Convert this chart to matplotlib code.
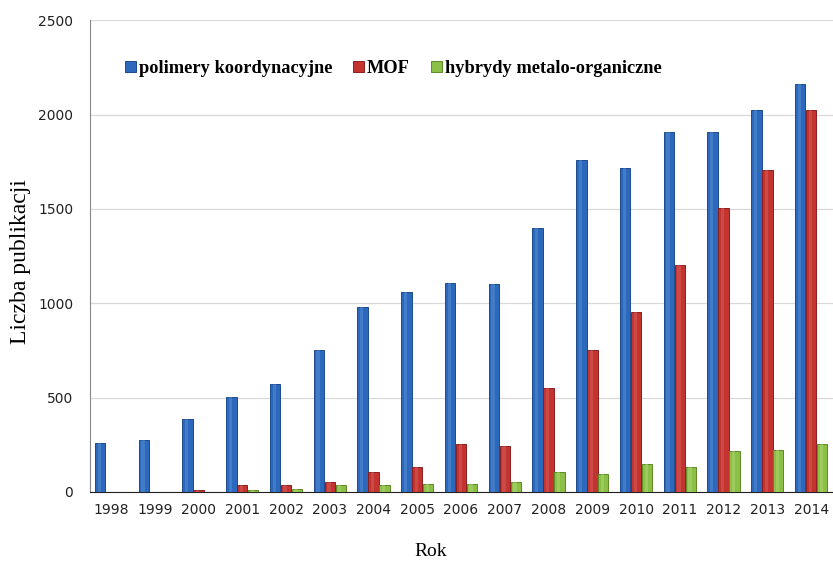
import matplotlib.pyplot as plt
import numpy as np

years = ['1998', '1999', '2000', '2001', '2002', '2003', '2004', '2005', '2006',
         '2007', '2008', '2009', '2010', '2011', '2012', '2013', '2014']
polimery = [260, 275, 385, 505, 570, 755, 980, 1060, 1105, 1100, 1400, 1760, 1715, 1910, 1910, 2025, 2160]
mof = [0, 0, 10, 35, 35, 55, 105, 135, 255, 245, 550, 750, 955, 1205, 1505, 1705, 2025]
hybrydy = [0, 0, 0, 10, 15, 35, 35, 40, 45, 55, 105, 95, 150, 135, 215, 220, 255]

serif = 'Liberation Serif'

fig = plt.figure(figsize=(8.33, 5.61), dpi=100)
ax = fig.add_axes([0.108, 0.123, 0.892, 0.841])

x = np.arange(len(years))
w = 0.25
series = [(polimery, '#2c68bb', '#1d4a8c', '#5f93d6', 'polimery koordynacyjne'),
          (mof, '#c3332f', '#8a1f1f', '#db6460', 'MOF'),
          (hybrydy, '#8cbf45', '#5c8a25', '#b3d97a', 'hybrydy metalo-organiczne')]
for i, (vals, col, edge, light, lab) in enumerate(series):
    pos = x + (i - 1) * w
    ax.bar(pos, vals, w * 0.95, color=col, edgecolor=edge, linewidth=0.7,
           label=lab, zorder=3)
    # light stripe to mimic the cylinder shading
    ax.bar(pos - w * 0.08, vals, w * 0.3, color=light, alpha=0.45,
           linewidth=0, zorder=4)

ax.set_xlim(-0.48, 16.5)
ax.set_ylim(0, 2500)
ax.set_yticks([0, 500, 1000, 1500, 2000, 2500])
ax.set_xticks(x)
ax.set_xticklabels(years)
ax.tick_params(axis='both', length=0, labelsize=10, colors='#222222')
ax.tick_params(axis='y', pad=12)
ax.tick_params(axis='x', pad=8)
ax.grid(axis='y', color='#d9d9d9', linewidth=0.9, zorder=0)

for s in ['top', 'right']:
    ax.spines[s].set_visible(False)
ax.spines['left'].set_color('#888888')
ax.spines['bottom'].set_color('#222222')

ax.set_ylabel('Liczba publikacji', family=serif, fontsize=17)
ax.yaxis.set_label_coords(-0.08, 0.489)
ax.set_xlabel('Rok', family=serif, fontsize=14)
ax.xaxis.set_label_coords(0.459, -0.108)

leg = ax.legend(loc='center left', bbox_to_anchor=(0.047, 0.898), ncol=3, frameon=False,
                prop={'family': serif, 'size': 13.2, 'weight': 'bold'},
                handlelength=0.6, handleheight=0.6, handletextpad=0.15,
                columnspacing=1.15, borderpad=0, borderaxespad=0)

fig.savefig('out.png', dpi=100)
